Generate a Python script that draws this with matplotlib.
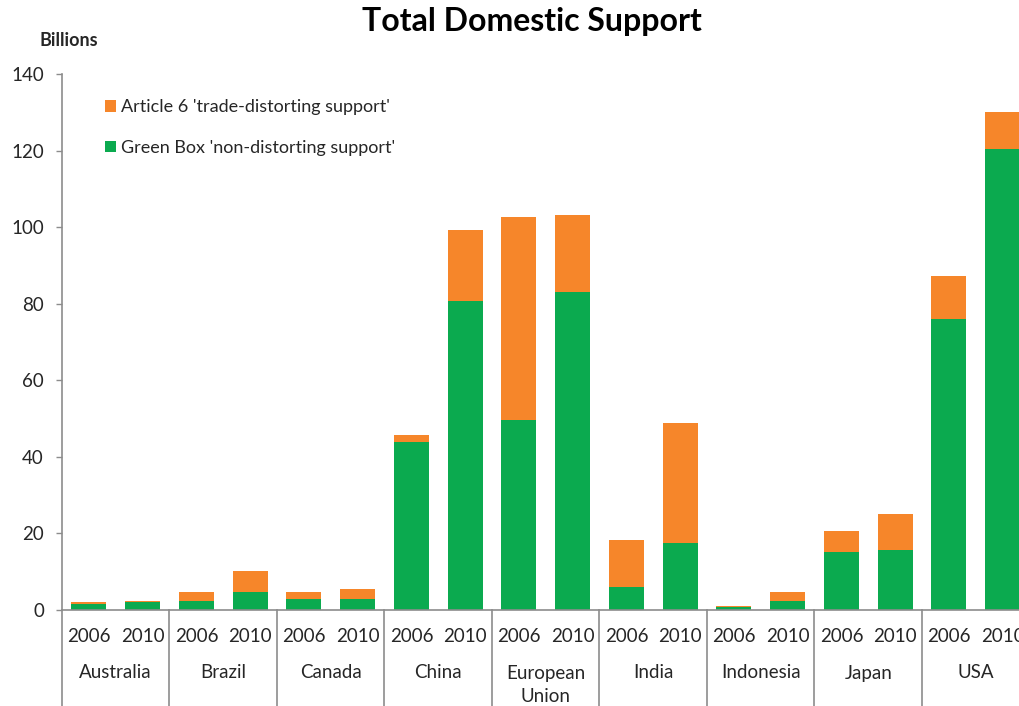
import matplotlib
matplotlib.use("Agg")
import matplotlib.pyplot as plt
import numpy as np

countries = ["Australia", "Brazil", "Canada", "China", "European\nUnion",
             "India", "Indonesia", "Japan", "USA"]
years = ["2006", "2010"]
green_box = [1.6, 2.0, 2.4, 4.6, 2.9, 2.8, 43.9, 80.7, 49.6, 83.0,
             6.0, 17.5, 0.9, 2.4, 15.1, 15.6, 76.0, 120.5]
article6 = [0.4, 0.3, 2.2, 5.5, 1.7, 2.6, 1.8, 18.5, 53.0, 20.1,
            12.3, 31.3, 0.2, 2.2, 5.5, 9.5, 11.2, 9.6]
yticks = [0, 20, 40, 60, 80, 100, 120, 140]

ORANGE = "#F6862A"
GREEN = "#0BAA4F"
GRAY = "#8C8C8C"
TXT = "#262626"

plt.rcParams['font.family'] = ['Lato', 'DejaVu Sans']

W, H = 1020, 706
fig = plt.figure(figsize=(W / 100, H / 100), dpi=100)
x0, x1 = 62, 1020
ytop, ybot = 74, 610
ax = fig.add_axes([x0 / W, (H - ybot) / H, (x1 - x0) / W, (ybot - ytop) / H])

n = len(green_box)
x = np.arange(n)
bw = 0.65
ax.bar(x, green_box, bw, color=GREEN, label="Green Box 'non-distorting support'", zorder=2)
ax.bar(x, article6, bw, bottom=green_box, color=ORANGE,
       label="Article 6 'trade-distorting support'", zorder=2)

slot_px = 53.75
ax.set_xlim(-0.5, -0.5 + (x1 - x0) / slot_px)
ax.set_ylim(0, 140)
ax.set_yticks(yticks)
ax.set_yticklabels([str(v) for v in yticks], fontsize=13.5, color=TXT)
ax.tick_params(axis='y', length=4, color=GRAY, width=1, pad=9)
ax.set_xticks([])
for s in ["top", "right"]:
    ax.spines[s].set_visible(False)
for s in ["left", "bottom"]:
    ax.spines[s].set_color(GRAY)
    ax.spines[s].set_linewidth(1.2)

trans = ax.get_xaxis_transform()
axh = ybot - ytop
FS = 13.5
for i in range(n):
    ax.text(x[i], (ybot - 636) / axh, years[i % 2], transform=trans,
            ha='center', va='center', fontsize=FS, color=TXT, clip_on=False)
for g, c in enumerate(countries):
    cx = 2 * g + 0.5
    if "\n" in c:
        a, b = c.split("\n")
        ax.text(cx, (ybot - 673) / axh, a, transform=trans, ha='center', va='center',
                fontsize=FS, color=TXT, clip_on=False)
        ax.text(cx, (ybot - 697) / axh, b, transform=trans, ha='center', va='center',
                fontsize=FS, color=TXT, clip_on=False)
    else:
        ax.text(cx, (ybot - 673) / axh, c, transform=trans, ha='center', va='center',
                fontsize=FS, color=TXT, clip_on=False)
for g in range(len(countries) + 1):
    bx = 2 * g - 0.5
    ax.plot([bx, bx], [0, -(H - ybot) / axh], transform=trans, color=GRAY,
            lw=1.2, clip_on=False)

handles, labels = ax.get_legend_handles_labels()
leg = ax.legend(handles[::-1], labels[::-1], loc='upper left',
                bbox_to_anchor=((98 - x0) / (x1 - x0), (ybot - 92) / axh),
                frameon=False, fontsize=13, handlelength=0.6, handleheight=0.6,
                handletextpad=0.3, labelspacing=1.35, borderaxespad=0)
for t in leg.get_texts():
    t.set_color(TXT)

fig.text(532 / W, 1 - 22 / H, "Total Domestic Support", ha='center', va='center',
         fontsize=23, fontweight='bold', color='black')
fig.text(40 / W, 1 - 40 / H, "Billions", ha='left', va='center',
         fontsize=13, fontweight='bold', color=TXT)

fig.savefig("out.png", dpi=100)
